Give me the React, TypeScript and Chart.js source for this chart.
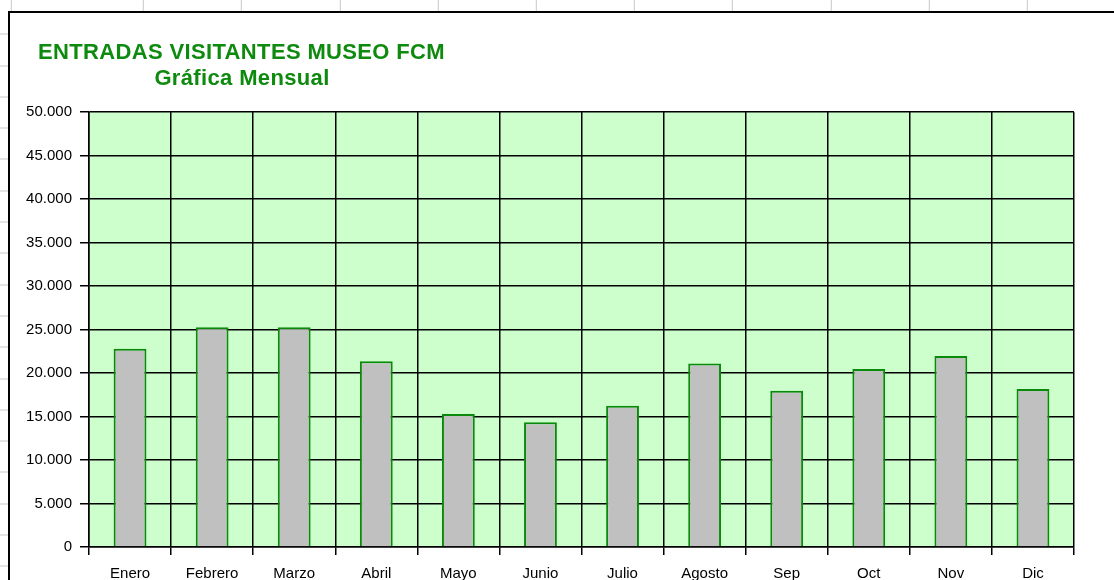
import React, { useEffect, useRef } from "react";
import { Chart, registerables } from "chart.js";

Chart.register(...registerables);

const categories = ["Enero", "Febrero", "Marzo", "Abril", "Mayo", "Junio", "Julio", "Agosto", "Sep", "Oct", "Nov", "Dic"];
const visitantes = [22800, 25250, 25250, 21350, 15300, 14350, 16250, 21100, 17950, 20450, 21950, 18150];
const yMin = 0;
const yMax = 50000;
const yStep = 5000;
const titleLines = ["ENTRADAS VISITANTES MUSEO FCM", "Gráfica Mensual"];

const fmt = (v: number) => String(v).replace(/\B(?=(\d{3})+(?!\d))/g, ".");

const plotBg = {
  id: "plotBg",
  beforeDraw(chart: any) {
    const { ctx, chartArea } = chart;
    ctx.save();
    ctx.fillStyle = "#CCFFCC";
    ctx.fillRect(chartArea.left, chartArea.top, chartArea.right - chartArea.left, chartArea.bottom - chartArea.top);
    ctx.restore();
  },
};

const titlePlugin = {
  id: "excelTitle",
  afterDraw(chart: any) {
    const { ctx } = chart;
    ctx.save();
    ctx.fillStyle = "#0E8A0E";
    ctx.font = "bold 22px 'Liberation Sans', Arial, sans-serif";
    try {
      (ctx as any).letterSpacing = "0.35px";
    } catch (e) {}
    ctx.textBaseline = "alphabetic";
    ctx.textAlign = "left";
    ctx.fillText(titleLines[0], 38, 59);
    ctx.textAlign = "center";
    ctx.fillText(titleLines[1], 242, 85);
    ctx.restore();
  },
};

export default function App() {
  const ref = useRef<HTMLCanvasElement>(null);
  useEffect(() => {
    if (!ref.current) return;
    const chart = new Chart(ref.current, {
      type: "bar",
      data: {
        labels: categories,
        datasets: [
          {
            data: visitantes,
            backgroundColor: "#C0C0C0",
            borderColor: "#0A8A0A",
            borderWidth: 2,
            barPercentage: 0.4,
            categoryPercentage: 1,
          },
        ],
      },
      options: {
        responsive: false,
        animation: false,
        layout: { padding: { left: 9, right: 40, top: 112, bottom: 0 } },
        plugins: { legend: { display: false }, tooltip: { enabled: false }, title: { display: false } },
        scales: {
          x: {
            grid: { offset: true, color: "#000", lineWidth: 1.5, tickLength: 8 },
            border: { color: "#000", width: 1.5 },
            ticks: {
              color: "#000",
              font: { family: "'Liberation Sans', Arial, sans-serif", size: 15 },
              padding: 10,
              maxRotation: 0,
              autoSkip: false,
            },
            afterFit: (s: any) => {
              s.height = 33;
            },
          },
          y: {
            min: yMin,
            max: yMax,
            grid: { color: "#000", lineWidth: 1.5, tickLength: 9 },
            border: { color: "#000", width: 1.5 },
            ticks: {
              stepSize: yStep,
              color: "#000",
              font: { family: "'Liberation Sans', Arial, sans-serif", size: 15 },
              padding: 8,
              callback: (v: any) => fmt(Number(v)),
            },
            afterFit: (s: any) => {
              s.width = 80;
            },
          },
        },
      },
      plugins: [plotBg, titlePlugin],
    });
    return () => chart.destroy();
  }, []);

  return (
    <div
      style={{
        position: "fixed",
        left: 0,
        top: 0,
        width: 1114,
        height: 580,
        overflow: "hidden",
        background: "#fff",
        backgroundImage:
          "repeating-linear-gradient(to right, transparent 0px, transparent 97.2px, #c8c8c8 97.2px, #c8c8c8 98.2px), repeating-linear-gradient(to bottom, transparent 0px, transparent 30.3px, #c8c8c8 30.3px, #c8c8c8 31.3px)",
        backgroundPosition: "45.8px 0px, 0px 3.5px",
      }}
    >
      <div
        style={{
          position: "absolute",
          left: 8,
          top: 11,
          width: 1200,
          height: 700,
          border: "2px solid #000",
          background: "#fff",
        }}
      />
      <canvas ref={ref} width={1114} height={580} style={{ position: "absolute", left: 0, top: 0 }} />
    </div>
  );
}
